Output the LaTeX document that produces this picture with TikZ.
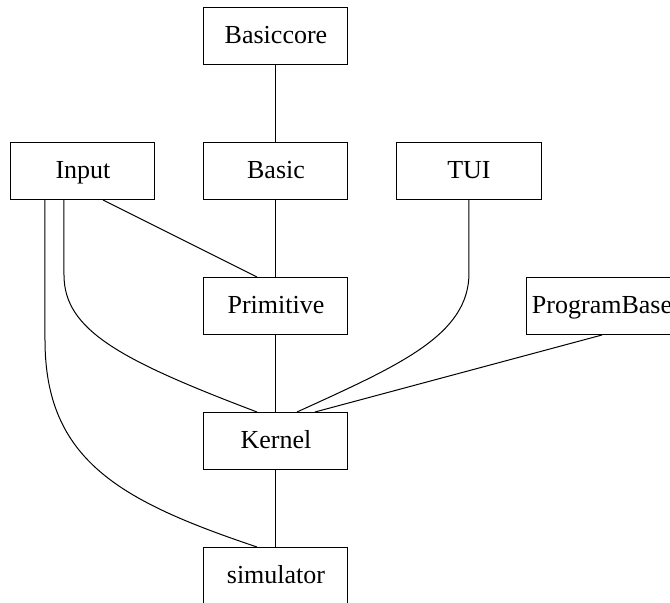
\documentclass[tikz,border=0pt]{standalone}
\usepackage{fontspec}
\setmainfont{Liberation Serif}
\usetikzlibrary{positioning}

\begin{document}
\begin{tikzpicture}[node distance=38.5pt and 24pt,line width=0.5pt,
  every node/.style={font=\fontsize{13pt}{15pt}\selectfont},
  box/.style={draw,align=center,inner xsep=2.5pt,text height=10pt,text depth=2.5pt,minimum width=72pt,minimum height=28.5pt}]
      \useasboundingbox (-138pt,18pt) rectangle (197pt,-283.5pt);
      \node[box] (bc) {Basiccore};
      \node[box,below=of bc] (b) {Basic};
      \node[box,left=of b] (in) {Input};
      \node[box,right=of b] (tui) {TUI};
      \node[box,below=of b] (pr) {Primitive};
      \node[box,right=89pt of pr] (pb) {ProgramBase};
      \node[box,below=of pr] (k) {Kernel};
      \node[box,below=of k] (sim) {simulator};
      \draw (bc)--(b);
      \draw (b)--(pr);
      \draw (pr)--(k);
      \draw (k)--(sim);
      \draw ([xshift=10pt]in.south)--([xshift=-9.5pt]pr.north);
      \draw ([xshift=-9.5pt]in.south) -- ++(0,-37.5pt) .. controls +(0,-27.5pt) and +(-68.5pt,26pt) .. ([xshift=-9.5pt]k.north);
      \draw ([xshift=-19pt]in.south) -- ++(0,-70pt) .. controls +(0,-60pt) and +(-68.5pt,23pt) .. ([xshift=-9.5pt]sim.north);
      \draw (tui.south) -- ++(0,-36.5pt) .. controls +(0,-31pt) and +(51.5pt,23.5pt) .. ([xshift=10.5pt]k.north);
      \draw (pb.south)--([xshift=19.5pt]k.north);
    \end{tikzpicture}
\end{document}
